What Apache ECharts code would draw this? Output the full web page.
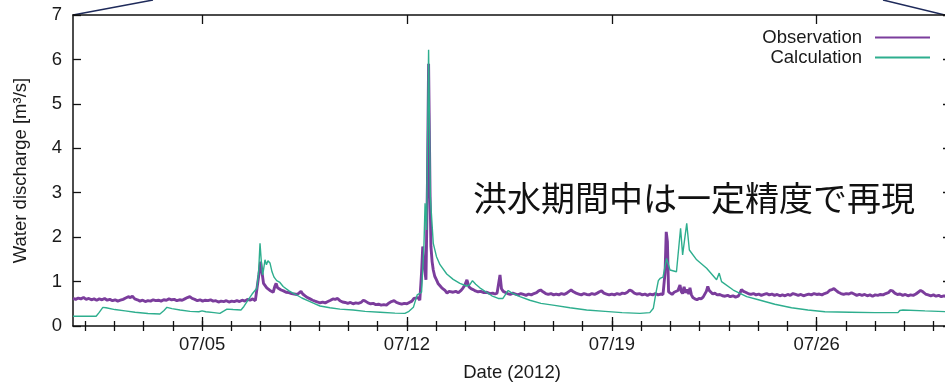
<!DOCTYPE html>
<html><head><meta charset="utf-8">
<script src="https://cdn.jsdelivr.net/npm/echarts@6/dist/echarts.min.js"></script>
<style>html,body{margin:0;padding:0;background:#fff}#c{width:945px;height:383px}</style>
</head><body><div id="c"></div>
<script>
// x values: fractional day of July 2012 (5.0 = 07/05 00:00)
const xMin = 0.59, xMax = 30.59;
const majorDays = [5, 12, 19, 26];
const minorDays = [1,2,3,4,5,6,7,8,9,10,11,12,13,14,15,16,17,18,19,20,21,22,23,24,25,26,27,28,29,30];
const yTicks = [0,1,2,3,4,5,6,7];
const seriesNames = ['Observation', 'Calculation'];
const annotation = '洪水期間中は一定精度で再現';

const observation = [
 [0.59,.62],[0.68,.60],[0.77,.63],[0.86,.61],[0.95,.64],[1.04,.60],[1.13,.62],[1.22,.59],[1.31,.61],[1.40,.58],
 [1.49,.61],[1.58,.59],[1.67,.62],[1.76,.58],[1.85,.60],[1.94,.57],[2.03,.59],[2.12,.56],[2.21,.58],[2.30,.60],
 [2.39,.63],[2.48,.66],[2.55,.64],[2.62,.67],[2.70,.61],[2.79,.59],[2.88,.56],[2.97,.58],[3.06,.55],[3.15,.57],
 [3.24,.56],[3.33,.59],[3.42,.57],[3.51,.58],[3.60,.56],[3.69,.59],[3.78,.58],[3.87,.61],[3.96,.59],[4.05,.60],
 [4.14,.57],[4.23,.59],[4.32,.58],[4.41,.61],[4.50,.64],[4.58,.66],[4.66,.62],[4.75,.60],[4.84,.57],[4.93,.59],
 [5.02,.56],[5.11,.58],[5.20,.57],[5.29,.59],[5.38,.56],[5.47,.57],[5.56,.54],[5.65,.56],[5.74,.55],[5.83,.57],
 [5.92,.54],[6.01,.56],[6.10,.55],[6.19,.57],[6.28,.55],[6.37,.58],[6.46,.56],[6.55,.60],[6.64,.58],[6.73,.61],
 [6.82,.57],[6.88,.60],
 [6.94,1.15],[7.00,1.45],[7.05,1.20],[7.10,0.96],[7.16,0.92],[7.21,0.86],[7.27,0.84],[7.32,0.80],[7.38,0.78],[7.43,0.76],
 [7.49,0.90],[7.53,0.96],[7.58,0.86],[7.64,0.84],[7.70,0.81],[7.78,0.79],[7.87,0.76],[7.96,0.75],[8.06,0.73],[8.15,0.72],
 [8.24,0.71],[8.31,0.74],[8.38,0.78],[8.44,0.72],[8.52,0.68],[8.60,0.64],[8.69,0.61],[8.78,0.58],[8.86,0.56],[8.95,0.54],
 [9.03,0.52],
 [9.12,.54],[9.21,.52],[9.30,.55],[9.39,.58],[9.47,.61],[9.55,.60],[9.63,.62],[9.71,.57],[9.80,.54],[9.89,.53],
 [9.98,.51],[10.07,.53],[10.16,.50],[10.25,.52],[10.34,.51],[10.43,.53],[10.51,.58],[10.58,.56],[10.67,.52],[10.76,.50],
 [10.85,.51],[10.94,.48],[11.03,.49],[11.12,.47],[11.21,.48],[11.30,.47],[11.39,.52],[11.47,.55],[11.56,.57],[11.64,.53],
 [11.73,.51],[11.82,.49],[11.91,.51],[12.00,.50],[12.08,.53],[12.17,.56],[12.24,.62],[12.30,.66],[12.38,.64],[12.44,.58],
 [12.50,1.20],[12.54,1.79],[12.58,1.42],[12.65,1.04],[12.70,3.2],[12.74,5.9],[12.79,3.0],[12.82,1.79],[12.86,1.45],[12.90,1.26],
 [12.95,1.12],[13.01,1.04],[13.07,0.95],[13.13,0.92],[13.19,0.86],[13.24,0.85],[13.30,0.80],[13.37,0.74],[13.44,0.78],[13.50,0.80],
 [13.58,0.76],[13.67,0.78],[13.76,0.75],[13.85,0.80],[13.92,0.86],[13.98,0.92],[14.05,1.04],[14.12,0.88],[14.19,0.84],[14.26,0.82],
 [14.34,0.79],[14.43,0.77],[14.52,0.78],[14.63,0.75],[14.73,0.76],[14.84,0.73],[14.93,0.74],[15.01,0.72],[15.08,0.74],[15.13,0.76],
 [15.18,1.15],[15.23,0.84],[15.29,0.78],[15.35,0.75],
 [15.44,.73],[15.53,.71],[15.62,.74],[15.71,.72],[15.80,.70],[15.89,.73],[15.98,.71],[16.07,.69],[16.16,.72],[16.25,.70],
 [16.34,.73],[16.43,.75],[16.50,.79],[16.57,.81],[16.65,.77],[16.74,.73],[16.83,.71],[16.92,.73],[17.01,.70],[17.10,.72],
 [17.19,.70],[17.28,.73],[17.37,.71],[17.46,.74],[17.54,.78],[17.61,.81],[17.69,.77],[17.78,.74],[17.87,.72],[17.96,.70],
 [18.05,.73],[18.14,.71],[18.23,.70],[18.32,.73],[18.41,.71],[18.50,.74],[18.58,.77],[18.65,.79],[18.73,.74],[18.82,.72],
 [18.91,.70],[19.00,.72],[19.09,.70],[19.18,.73],[19.27,.71],[19.36,.74],[19.45,.73],[19.53,.76],[19.61,.81],[19.68,.79],
 [19.77,.74],[19.86,.72],[19.95,.73],[20.04,.70],[20.13,.72],[20.22,.69],[20.31,.72],[20.40,.70],[20.49,.73],[20.58,.70],
 [20.67,.72],[20.75,.71],
 [20.82,1.2],[20.86,2.12],[20.90,1.9],[20.94,0.77],[21.00,0.73],[21.06,0.71],[21.13,0.76],[21.19,0.74],[21.26,0.80],[21.33,0.92],
 [21.37,0.78],[21.42,0.73],[21.47,0.88],[21.52,0.75],[21.58,0.82],[21.63,0.72],[21.67,0.86],[21.72,0.70],[21.77,0.64],[21.84,0.61],
 [21.91,0.59],[21.98,0.62],[22.05,0.61],[22.12,0.65],[22.18,0.68],[22.23,0.78],[22.28,0.89],[22.33,0.80],[22.38,0.76],[22.45,0.72],
 [22.52,0.74],[22.60,0.70],[22.69,0.71],[22.78,0.68],[22.87,0.67],[22.96,0.69],[23.05,0.66],[23.14,0.68],[23.23,0.65],[23.32,0.67],
 [23.38,0.74],[23.43,0.82],[23.50,0.78],[23.57,0.76],
 [23.66,.73],[23.75,.71],[23.84,.73],[23.93,.70],[24.02,.72],[24.11,.69],[24.20,.71],[24.29,.73],[24.38,.70],[24.47,.72],
 [24.56,.69],[24.65,.71],[24.74,.68],[24.83,.70],[24.92,.68],[25.01,.71],[25.10,.69],[25.19,.73],[25.28,.71],[25.37,.69],
 [25.46,.71],[25.55,.68],[25.64,.70],[25.73,.72],[25.82,.70],[25.91,.73],[26.00,.71],[26.09,.72],[26.18,.70],[26.27,.73],
 [26.36,.75],[26.44,.80],[26.52,.82],[26.59,.84],[26.66,.80],[26.74,.76],[26.83,.73],[26.92,.71],[27.01,.73],[27.10,.72],
 [27.19,.75],[27.28,.72],[27.37,.69],[27.46,.71],[27.55,.69],[27.64,.71],[27.73,.68],[27.82,.70],[27.91,.67],[28.00,.70],
 [28.09,.69],[28.18,.71],[28.27,.70],[28.36,.73],[28.45,.75],[28.52,.80],[28.59,.79],[28.67,.74],[28.76,.71],[28.85,.72],
 [28.94,.69],[29.03,.71],[29.12,.68],[29.21,.70],[29.30,.69],[29.39,.72],[29.47,.76],[29.55,.80],[29.63,.77],[29.72,.72],
 [29.81,.70],[29.90,.68],[29.99,.70],[30.08,.67],[30.17,.69],[30.26,.66],[30.35,.68],[30.44,.66],[30.53,.67],[30.59,.65]
];

const calculation = [
 [0.59,0.22],[1.38,0.22],[1.48,0.30],[1.61,0.42],[1.72,0.41],[2.02,0.37],[2.37,0.34],[2.71,0.31],
 [3.15,0.28],[3.56,0.27],[3.70,0.35],[3.80,0.42],[3.97,0.39],[4.25,0.36],[4.59,0.33],[4.89,0.32],
 [5.00,0.34],[5.13,0.32],[5.41,0.30],[5.61,0.285],[5.75,0.34],[5.85,0.38],[6.06,0.37],[6.33,0.36],
 [6.43,0.44],[6.57,0.58],[6.71,0.72],[6.87,0.85],[6.93,1.2],[6.98,1.86],[7.03,1.4],[7.07,1.15],
 [7.12,1.35],[7.15,1.49],[7.20,1.38],[7.25,1.47],[7.32,1.42],[7.39,1.22],[7.46,1.10],[7.55,1.02],
 [7.59,1.06],[7.66,0.98],[7.77,0.89],[7.97,0.79],[8.17,0.72],[8.41,0.63],[8.65,0.56],[8.86,0.50],
 [9.03,0.45],[9.37,0.41],[9.71,0.38],[10.16,0.36],[10.57,0.33],[11.08,0.31],[11.59,0.29],[11.93,0.285],
 [12.07,0.33],[12.22,0.42],[12.35,0.70],[12.41,0.74],[12.50,0.76],[12.58,1.79],[12.62,2.76],[12.67,2.16],
 [12.74,6.22],[12.80,2.9],[12.90,1.86],[13.01,1.56],[13.13,1.38],[13.36,1.17],[13.58,1.05],[13.81,0.96],
 [14.04,0.90],[14.15,0.93],[14.24,1.02],[14.35,0.94],[14.49,0.86],[14.72,0.76],[14.90,0.68],[15.12,0.62],
 [15.28,0.62],[15.46,0.80],[15.59,0.74],[15.86,0.66],[16.20,0.58],[16.58,0.51],[16.99,0.47],[17.57,0.41],
 [18.14,0.36],[18.77,0.33],[19.35,0.30],[19.96,0.285],[20.30,0.30],[20.42,0.40],[20.51,0.75],[20.59,1.02],
 [20.65,1.07],[20.75,1.10],[20.87,1.52],[20.99,1.26],[21.21,1.22],[21.35,2.2],[21.42,1.6],[21.56,2.31],
 [21.65,1.71],[21.90,1.49],[22.24,1.30],[22.58,1.04],[22.67,1.19],[22.75,1.0],[23.15,0.81],[23.61,0.66],
 [24.01,0.59],[24.57,0.49],[25.14,0.41],[25.70,0.36],[26.28,0.32],[27.14,0.31],[27.99,0.30],[28.78,0.30],
 [28.84,0.35],[28.95,0.36],[29.70,0.34],[30.59,0.32]
];

const FONT = '"Liberation Sans", Arial, Helvetica, sans-serif';
const FS = 18.5;
const TXT = '#1a1a1a';
const OBS_COLOR = '#7b3d9c', CAL_COLOR = '#2eae8e';
const chart = echarts.init(document.getElementById('c'), null, {renderer: 'canvas'});
const pad = d => (d < 10 ? '0' : '') + d;
const baseX = (pos) => ({
  type: 'value', position: pos, min: xMin, max: xMax,
  splitLine: {show: false},
  axisLine: {show: false},
  axisLabel: {show: false},
  axisTick: {show: false}
});
const xAxes = [
  Object.assign(baseX('bottom'), {
    name: 'Date (2012)', nameLocation: 'middle', nameGap: 37,
    nameTextStyle: {fontFamily: FONT, fontSize: FS, color: TXT},
    axisLine: {show: true, onZero: false, lineStyle: {color: '#111', width: 1.5}},
    axisTick: {show: true, inside: true, length: 9, customValues: majorDays, lineStyle: {color: '#111', width: 1.3}},
    axisLabel: {show: true, customValues: majorDays, margin: 9, fontFamily: FONT, fontSize: FS, color: TXT,
      formatter: v => '07/' + pad(Math.round(v))}
  }),
  Object.assign(baseX('bottom'), {
    axisTick: {show: true, inside: true, length: 5, customValues: minorDays, lineStyle: {color: '#111', width: 1.3}}
  }),
  Object.assign(baseX('top'), {
    axisLine: {show: true, onZero: false, lineStyle: {color: '#111', width: 1.5}},
    axisTick: {show: true, inside: true, length: 9, customValues: majorDays, lineStyle: {color: '#111', width: 1.3}}
  }),
  Object.assign(baseX('top'), {
    axisTick: {show: true, inside: true, length: 5, customValues: minorDays, lineStyle: {color: '#111', width: 1.3}}
  })
];
const yAxes = [
  {
    type: 'value', position: 'left', min: 0, max: 7, interval: 1,
    name: 'Water discharge [m³/s]', nameLocation: 'middle', nameGap: 43,
    nameTextStyle: {fontFamily: FONT, fontSize: FS, color: TXT},
    splitLine: {show: false},
    axisLine: {show: true, onZero: false, lineStyle: {color: '#111', width: 1.5}},
    axisTick: {show: true, inside: true, length: 8, lineStyle: {color: '#111', width: 1.3}},
    axisLabel: {margin: 11, fontFamily: FONT, fontSize: FS, color: TXT,
      formatter: v => yTicks.indexOf(v) >= 0 ? String(v) : ''}
  },
  {
    type: 'value', position: 'right', min: 0, max: 7, interval: 1,
    splitLine: {show: false},
    axisLine: {show: true, onZero: false, lineStyle: {color: '#111', width: 1.5}},
    axisTick: {show: true, inside: true, length: 8, lineStyle: {color: '#111', width: 1.3}},
    axisLabel: {show: false}
  }
];
const legendBase = {
  right: 10, align: 'right', orient: 'vertical', itemWidth: 55, itemHeight: 2, icon: 'rect',
  selectedMode: false,
  textStyle: {fontFamily: FONT, fontSize: FS, color: TXT, padding: [0, 8, 0, 0]}
};
chart.setOption({
  animation: false,
  backgroundColor: '#fff',
  grid: {left: 73, right: -6, top: 15, bottom: 57, containLabel: false, outerBoundsMode: 'none'},
  xAxis: xAxes,
  yAxis: yAxes,
  legend: [
    Object.assign({}, legendBase, {top: 23, data: [seriesNames[0]]}),
    Object.assign({}, legendBase, {top: 43, data: [seriesNames[1]]})
  ],
  graphic: [
    {type: 'line', silent: true, shape: {x1: 73, y1: 15, x2: 153, y2: 0}, style: {stroke: '#1e2a5a', lineWidth: 1.5}},
    {type: 'line', silent: true, shape: {x1: 883, y1: 0, x2: 945, y2: 15}, style: {stroke: '#1e2a5a', lineWidth: 1.5}},
    {type: 'text', silent: true, left: 473, top: 181, z: 10,
     style: {text: annotation, font: '34px "Noto Sans CJK JP"', fill: '#111'}}
  ],
  series: [
    {name: seriesNames[0], type: 'line', data: observation, xAxisIndex: 0, yAxisIndex: 0,
     symbol: 'none', lineStyle: {color: OBS_COLOR, width: 2.9}, itemStyle: {color: OBS_COLOR}, z: 2},
    {name: seriesNames[1], type: 'line', data: calculation, xAxisIndex: 0, yAxisIndex: 0,
     symbol: 'none', lineStyle: {color: CAL_COLOR, width: 1.4}, itemStyle: {color: CAL_COLOR}, z: 3}
  ]
});
</script>
</body></html>
